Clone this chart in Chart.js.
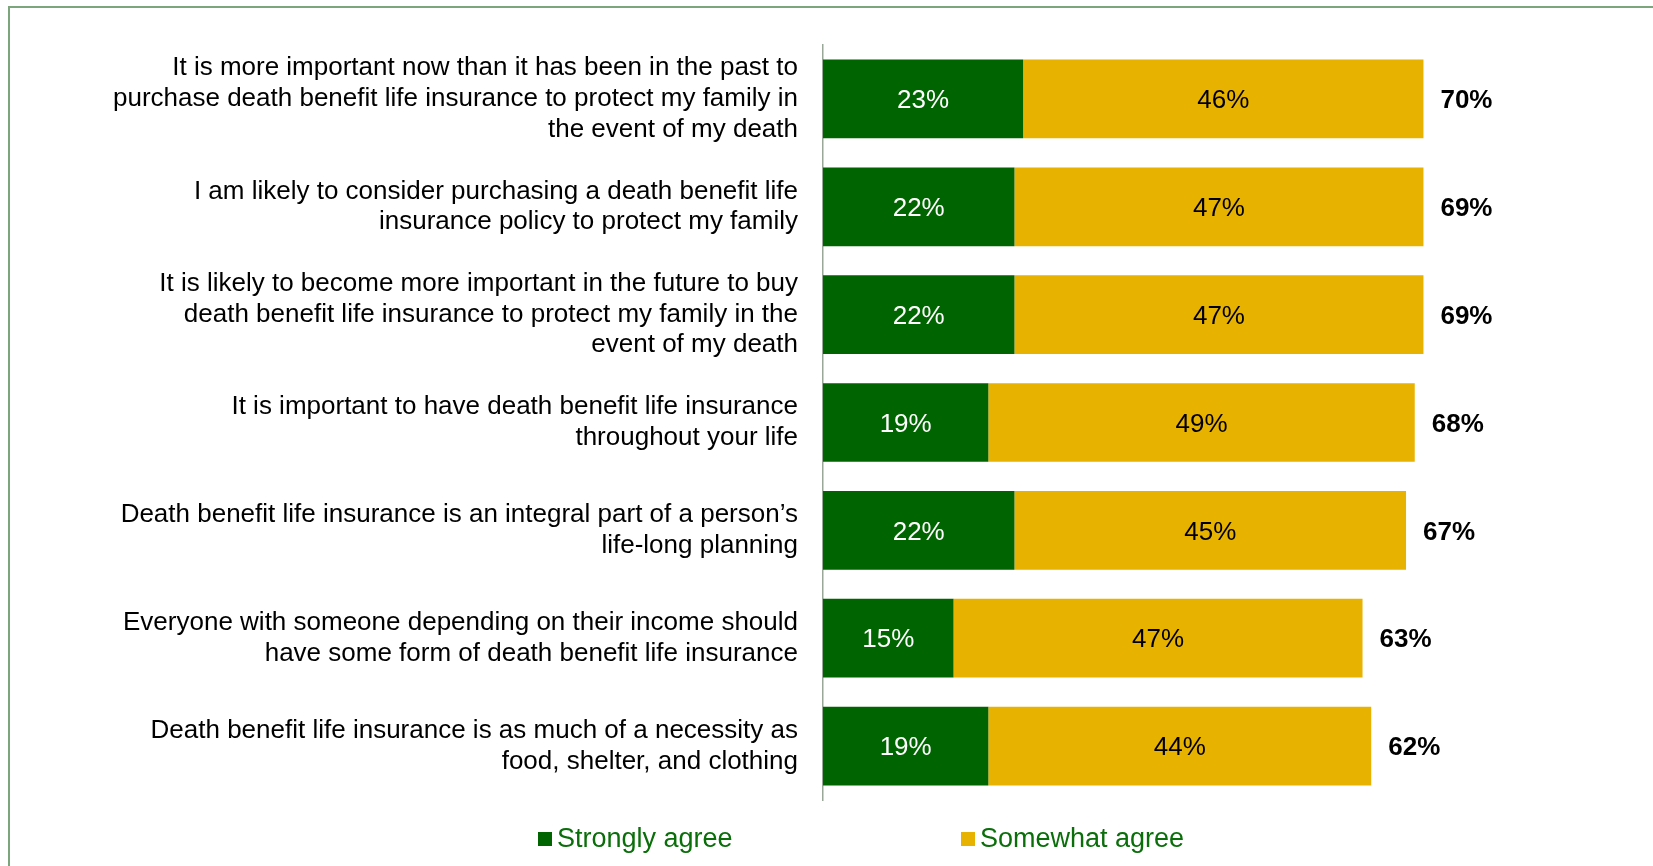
<!DOCTYPE html>
<html lang="en">
<head>
    <meta charset="UTF-8">
    <title>Death benefit life insurance attitudes</title>
    <script src="https://cdn.jsdelivr.net/npm/chart.js"></script>
    <style>
        body {
            margin: 0;
            padding: 0;
            background: #fff;
            font-family: "Liberation Sans", Arial, sans-serif;
        }
        #wrap {
            position: relative;
            width: 1653px;
            height: 866px;
            overflow: hidden;
        }
        /* green frame, only top and left edges show in the picture */
        #frame {
            position: absolute;
            left: 8px;
            top: 6px;
            width: 1700px;
            height: 900px;
            border: 2px solid #7ca57c;
        }
        #myChart {
            position: absolute;
            left: 0;
            top: 0;
        }
    </style>
</head>
<body>
<div id="wrap">
    <div id="frame"></div>
    <canvas id="myChart" width="1653" height="866"></canvas>
</div>

<script>
    const statements = [
        ["It is more important now than it has been in the past to", "purchase death benefit life insurance to protect my family in", "the event of my death"],
        ["I am likely to consider purchasing a death benefit life", "insurance policy to protect my family"],
        ["It is likely to become more important in the future to buy", "death benefit life insurance to protect my family in the", "event of my death"],
        ["It is important to have death benefit life insurance", "throughout your life"],
        ["Death benefit life insurance is an integral part of a person\u2019s", "life-long planning"],
        ["Everyone with someone depending on their income should", "have some form of death benefit life insurance"],
        ["Death benefit life insurance is as much of a necessity as", "food, shelter, and clothing"]
    ];
    const stronglyAgree = [23, 22, 22, 19, 22, 15, 19];
    const somewhatAgree = [46, 47, 47, 49, 45, 47, 44];
    const totalAgree = [70, 69, 69, 68, 67, 63, 62];   // as printed on the chart

    const fontName = '"Liberation Sans", Arial, sans-serif';

    // labels inside the bars + totals at the end
    const barLabels = {
        id: 'barLabels',
        afterDatasetsDraw(chart) {
            const ctx = chart.ctx;
            ctx.save();
            ctx.font = '26px ' + fontName;
            ctx.textAlign = 'center';
            ctx.textBaseline = 'middle';
            chart.data.datasets.forEach((ds, di) => {
                const meta = chart.getDatasetMeta(di);
                ctx.fillStyle = di === 0 ? '#ffffff' : '#000000';
                meta.data.forEach((bar, i) => {
                    ctx.fillText(Math.round(ds.data[i]) + '%', (bar.x + bar.base) / 2, bar.y + 2);
                });
            });
            const last = chart.getDatasetMeta(chart.data.datasets.length - 1);
            ctx.font = 'bold 26px ' + fontName;
            ctx.textAlign = 'left';
            ctx.fillStyle = '#000000';
            last.data.forEach((bar, i) => {
                ctx.fillText(totalAgree[i] + '%', bar.x + 17, bar.y + 2);
            });
            ctx.restore();
        }
    };

    // legend drawn by hand to get the wide spacing of the original
    const bottomLegend = {
        id: 'bottomLegend',
        afterDraw(chart) {
            const ctx = chart.ctx;
            const xs = [538, 961];
            const y = 839;
            ctx.save();
            ctx.font = '27px ' + fontName;
            ctx.textBaseline = 'middle';
            ctx.textAlign = 'left';
            chart.data.datasets.forEach((ds, i) => {
                ctx.fillStyle = ds.backgroundColor;
                ctx.fillRect(xs[i], y - 7, 14, 14);
                ctx.fillStyle = '#0a6e0a';
                ctx.fillText(ds.label, xs[i] + 19, y + 1);
            });
            ctx.restore();
        }
    };

    const ctx = document.getElementById('myChart').getContext('2d');
    const myChart = new Chart(ctx, {
        type: 'bar',
        data: {
            labels: statements,
            datasets: [
                {
                    label: 'Strongly agree',
                    data: stronglyAgree,
                    backgroundColor: '#006400',
                    barPercentage: 0.73,
                    categoryPercentage: 1
                },
                {
                    label: 'Somewhat agree',
                    data: somewhatAgree,
                    backgroundColor: '#e8b200',
                    barPercentage: 0.73,
                    categoryPercentage: 1
                }
            ]
        },
        options: {
            indexAxis: 'y',
            responsive: false,
            animation: false,
            layout: {
                padding: { top: 45, bottom: 66, left: 0, right: 12 }
            },
            plugins: {
                legend: { display: false },
                tooltip: { enabled: false }
            },
            scales: {
                x: {
                    stacked: true,
                    min: 0,
                    max: 94,
                    display: false
                },
                y: {
                    stacked: true,
                    grid: { display: false },
                    border: { display: true, color: '#9aa89a', width: 1.5 },
                    ticks: {
                        color: '#000000',
                        padding: 17,
                        font: { family: fontName, size: 26, lineHeight: 1.18 }
                    },
                    afterFit(scale) {
                        scale.width = 823;
                        // keep the tall wrapped labels from pushing the plot area in
                        scale.paddingTop = 0;
                        scale.paddingBottom = 0;
                    }
                }
            }
        },
        plugins: [barLabels, bottomLegend]
    });
</script>
</body>
</html>
